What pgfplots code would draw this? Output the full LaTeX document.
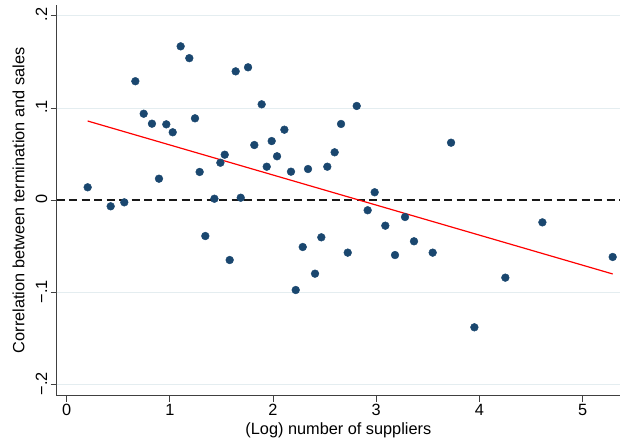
\documentclass[border=0pt]{standalone}
\usepackage{pgfplots}
\pgfplotsset{compat=1.18}
\usepackage{fontspec}
\setmainfont{Liberation Sans}
\definecolor{statanavy}{RGB}{26,71,111}
\definecolor{gridc}{RGB}{228,237,240}
\begin{document}
\begin{tikzpicture}
\begin{axis}[scale only axis,width=563.3pt,height=390.7pt,
  xmin=-0.096,xmax=5.362,ymin=-0.2117,ymax=0.2116,
  axis x line*=bottom,axis y line*=left,
  x axis line style={-},y axis line style={-},
  axis line style={black!75,line width=1.1pt},
  tick align=outside,major tick length=6pt,
  tick style={black!75,line width=1pt},
  xtick={0,1,2,3,4,5},xticklabels={0,1,2,3,4,5},
  ytick={-0.2,-0.1,0,0.1,0.2},yticklabels={−.2,−.1,0,.1,.2},
  extra y ticks={-0.2,-0.1,0.1,0.2},extra y tick labels={},
  extra y tick style={ymajorgrids=true,major tick length=0pt,grid style={gridc,line width=1pt}},
  tick label style={font=\fontsize{16.3}{18}\selectfont},
  xticklabel style={yshift=1pt},
  yticklabel style={rotate=90,anchor=south,xshift=1pt},
  xlabel={(Log) number of suppliers},
  ylabel={Correlation between termination and sales},
  label style={font=\fontsize{16.3}{18}\selectfont},
  xlabel style={at={(axis description cs:0.5,-0.089)},anchor=center},
  ylabel style={at={(axis description cs:-0.0675,0.5)},anchor=center},
  clip=false]
\addplot[black!90,line width=1.7pt,dash pattern=on 8pt off 4.5pt] coordinates {(-0.096,0) (5.362,0)};
\addplot[only marks,mark=*,mark size=3.9pt,color=statanavy] coordinates {
(0.204,0.0141) (0.427,-0.0065) (0.559,-0.0022) (0.666,0.129) (0.747,0.0938)
(0.827,0.083) (0.895,0.0234) (0.966,0.0823) (1.028,0.0737) (1.105,0.1668)
(1.189,0.154) (1.244,0.0888) (1.289,0.0307) (1.432,0.0017) (1.490,0.0407)
(1.532,0.0494) (1.638,0.1397) (1.687,0.0028) (1.758,0.1441) (1.819,0.0599)
(1.890,0.104) (1.939,0.0364) (1.987,0.0642) (2.039,0.0477) (2.110,0.0765)
(2.174,0.031) (2.339,0.0339) (2.526,0.0364) (2.597,0.052) (2.659,0.0827)
(2.811,0.1022) (2.985,0.0087) (2.917,-0.0108) (3.279,-0.0181) (3.725,0.0624)
(1.344,-0.0387) (1.580,-0.0647) (2.288,-0.0506) (2.220,-0.0972) (2.407,-0.0795)
(2.468,-0.0401) (2.724,-0.0567) (3.088,-0.0275) (3.182,-0.0593) (3.366,-0.0444)
(3.547,-0.0567) (3.951,-0.1376) (4.251,-0.0838) (4.610,-0.0239) (5.291,-0.0614)};
\addplot[red,line width=1.2pt] coordinates {(0.204,0.0859) (5.291,-0.0798)};
\end{axis}
\pgfresetboundingbox
\useasboundingbox (-56.7pt,-48.3pt) rectangle (563.3pt,395.7pt);
\end{tikzpicture}
\end{document}
